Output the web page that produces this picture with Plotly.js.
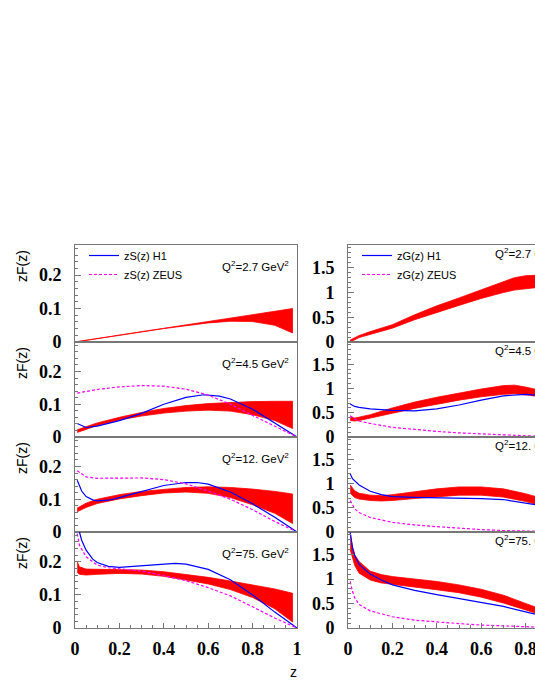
<!DOCTYPE html>
<html>
<head>
<meta charset="utf-8">
<script src="https://cdn.plot.ly/plotly-3.0.1.min.js"></script>
<style>
  html, body { margin: 0; padding: 0; overflow: hidden; background: #fff; }
  #chart { width: 600px; height: 692px; }
</style>
</head>
<body>
<div id="chart"></div>
<script>
// ---- data ----
// singlet zS(z), left column
var qLabels = ['2.7', '4.5', '12.', '75.'];

var zS1 = [0, 0.1, 0.2, 0.3, 0.4, 0.5, 0.6, 0.7, 0.8, 0.9, 0.98];
var S1_up = [0.0, 0.011, 0.021, 0.031, 0.041, 0.051, 0.061, 0.071, 0.081, 0.091, 0.1];
var S1_lo = [0.0, 0.010, 0.020, 0.030, 0.040, 0.049, 0.057, 0.062, 0.061, 0.05, 0.027];

var zS2 = [0.01, 0.1, 0.2, 0.3, 0.4, 0.5, 0.6, 0.7, 0.8, 0.9, 0.98];
var S2_up = [0.022, 0.043, 0.06, 0.075, 0.087, 0.096, 0.102, 0.106, 0.108, 0.109, 0.109];
var S2_lo = [0.014, 0.035, 0.052, 0.064, 0.073, 0.079, 0.082, 0.079, 0.068, 0.05, 0.026];
var zS2_h1 = [0.01, 0.05, 0.1, 0.15, 0.2, 0.3, 0.4, 0.5, 0.58, 0.65, 0.7, 0.8, 0.9, 1.0];
var S2_h1 = [0.041, 0.029, 0.033, 0.041, 0.05, 0.072, 0.1, 0.121, 0.129, 0.125, 0.116, 0.085, 0.043, 0.0];
var zS2_zeus = [0.01, 0.1, 0.2, 0.3, 0.4, 0.5, 0.6, 0.7, 0.8, 0.9, 1.0];
var S2_zeus = [0.134, 0.145, 0.153, 0.157, 0.155, 0.146, 0.128, 0.1, 0.066, 0.032, 0.0];

var zS3 = [0.01, 0.05, 0.1, 0.2, 0.3, 0.4, 0.5, 0.6, 0.7, 0.8, 0.9, 0.98];
var S3_up = [0.073, 0.088, 0.1, 0.114, 0.124, 0.131, 0.136, 0.138, 0.136, 0.131, 0.124, 0.116];
var S3_lo = [0.062, 0.075, 0.087, 0.101, 0.111, 0.119, 0.122, 0.118, 0.105, 0.083, 0.057, 0.026];
var zS3_h1 = [0.01, 0.03, 0.05, 0.08, 0.1, 0.15, 0.2, 0.3, 0.4, 0.5, 0.55, 0.6, 0.7, 0.8, 0.9, 1.0];
var S3_h1 = [0.158, 0.125, 0.108, 0.098, 0.095, 0.097, 0.105, 0.124, 0.142, 0.151, 0.151, 0.146, 0.122, 0.086, 0.045, 0.0];
var zS3_zeus = [0.01, 0.05, 0.1, 0.2, 0.3, 0.4, 0.5, 0.6, 0.7, 0.8, 0.9, 1.0];
var S3_zeus = [0.187, 0.168, 0.164, 0.165, 0.165, 0.16, 0.147, 0.125, 0.1, 0.068, 0.032, 0.0];

var zS4 = [0.01, 0.02, 0.05, 0.1, 0.2, 0.3, 0.4, 0.5, 0.6, 0.7, 0.8, 0.9, 0.98];
var S4_up = [0.2, 0.185, 0.178, 0.177, 0.177, 0.175, 0.17, 0.162, 0.153, 0.142, 0.131, 0.118, 0.105];
var S4_lo = [0.168, 0.162, 0.16, 0.162, 0.165, 0.163, 0.156, 0.145, 0.133, 0.116, 0.092, 0.058, 0.018];
var zS4_h1 = [0.02, 0.03, 0.05, 0.08, 0.1, 0.15, 0.2, 0.3, 0.4, 0.45, 0.5, 0.6, 0.7, 0.8, 0.9, 1.0];
var S4_h1 = [0.29, 0.265, 0.235, 0.208, 0.198, 0.186, 0.183, 0.187, 0.193, 0.195, 0.193, 0.177, 0.146, 0.1, 0.048, 0.0];
var zS4_zeus = [0.01, 0.02, 0.05, 0.1, 0.15, 0.2, 0.3, 0.4, 0.5, 0.6, 0.7, 0.8, 0.9, 1.0];
var S4_zeus = [0.285, 0.25, 0.215, 0.19, 0.182, 0.179, 0.172, 0.158, 0.143, 0.122, 0.097, 0.064, 0.03, 0.0];

// gluon zG(z), right column
var zG1 = [0.01, 0.05, 0.1, 0.2, 0.3, 0.4, 0.5, 0.6, 0.7, 0.75, 0.8, 0.85, 0.9, 0.98];
var G1_up = [0.04, 0.13, 0.21, 0.35, 0.55, 0.73, 0.89, 1.05, 1.22, 1.3, 1.34, 1.35, 1.32, 1.22];
var G1_lo = [0.0, 0.09, 0.16, 0.28, 0.45, 0.6, 0.74, 0.88, 1.0, 1.05, 1.08, 1.1, 1.08, 1.0];

var zG2 = [0.01, 0.03, 0.05, 0.1, 0.2, 0.3, 0.4, 0.5, 0.6, 0.7, 0.75, 0.8, 0.85, 0.9, 0.98];
var G2_up = [0.42, 0.39, 0.41, 0.46, 0.6, 0.72, 0.82, 0.91, 0.99, 1.06, 1.07, 1.03, 0.98, 0.9, 0.8];
var G2_lo = [0.34, 0.33, 0.34, 0.38, 0.49, 0.59, 0.68, 0.76, 0.83, 0.88, 0.89, 0.87, 0.84, 0.78, 0.7];
var zG2_h1 = [0.01, 0.03, 0.05, 0.1, 0.2, 0.3, 0.4, 0.5, 0.6, 0.7, 0.8, 0.9, 1.0];
var G2_h1 = [0.68, 0.63, 0.61, 0.58, 0.55, 0.54, 0.58, 0.66, 0.76, 0.85, 0.88, 0.84, 0.75];
var zG2_zeus = [0.01, 0.03, 0.05, 0.1, 0.2, 0.3, 0.4, 0.5, 0.6, 0.7, 0.8, 0.9, 1.0];
var G2_zeus = [0.44, 0.37, 0.33, 0.28, 0.2, 0.15, 0.115, 0.085, 0.06, 0.04, 0.025, 0.01, 0.0];

var zG3 = [0.01, 0.03, 0.05, 0.1, 0.15, 0.2, 0.3, 0.4, 0.5, 0.6, 0.7, 0.8, 0.9, 0.98];
var G3_up = [0.97, 0.85, 0.8, 0.76, 0.75, 0.77, 0.83, 0.89, 0.93, 0.93, 0.89, 0.79, 0.66, 0.55];
var G3_lo = [0.8, 0.71, 0.68, 0.65, 0.64, 0.65, 0.69, 0.73, 0.76, 0.76, 0.72, 0.63, 0.5, 0.4];
var zG3_h1 = [0.01, 0.02, 0.05, 0.1, 0.15, 0.2, 0.3, 0.4, 0.5, 0.6, 0.7, 0.8, 0.9, 1.0];
var G3_h1 = [1.2, 1.1, 0.97, 0.84, 0.77, 0.73, 0.715, 0.71, 0.7, 0.69, 0.67, 0.6, 0.52, 0.4];
var zG3_zeus = [0.01, 0.03, 0.05, 0.1, 0.2, 0.3, 0.4, 0.5, 0.6, 0.7, 0.8, 0.9, 1.0];
var G3_zeus = [0.65, 0.48, 0.4, 0.3, 0.2, 0.145, 0.11, 0.075, 0.05, 0.03, 0.015, 0.005, 0.0];

var zG4 = [0.01, 0.02, 0.03, 0.05, 0.1, 0.15, 0.2, 0.3, 0.4, 0.5, 0.6, 0.7, 0.8, 0.9, 0.98];
var G4_up = [1.93, 1.65, 1.5, 1.36, 1.16, 1.09, 1.05, 1.0, 0.95, 0.88, 0.79, 0.67, 0.5, 0.33, 0.2];
var G4_lo = [1.6, 1.42, 1.28, 1.12, 0.98, 0.92, 0.88, 0.83, 0.78, 0.72, 0.63, 0.51, 0.37, 0.22, 0.12];
var zG4_h1 = [0.01, 0.02, 0.03, 0.05, 0.1, 0.15, 0.2, 0.3, 0.4, 0.5, 0.6, 0.7, 0.8, 0.9, 1.0];
var G4_h1 = [1.95, 1.65, 1.48, 1.3, 1.1, 0.98, 0.88, 0.77, 0.68, 0.6, 0.53, 0.44, 0.33, 0.22, 0.1];
var zG4_zeus = [0.01, 0.02, 0.03, 0.05, 0.1, 0.15, 0.2, 0.3, 0.4, 0.5, 0.6, 0.7, 0.8, 0.9, 1.0];
var G4_zeus = [0.95, 0.75, 0.62, 0.48, 0.35, 0.29, 0.23, 0.16, 0.12, 0.09, 0.06, 0.04, 0.02, 0.01, 0.0];

// ---- page geometry (pixels) ----
var W = 600, H = 692;
var panelTop = [245, 342, 437, 532];
var panelBot = [342, 437, 532, 628];
var leftX = [75, 297], rightX = [348, 570];

var RED = '#ff0000', BLUE = '#0000ff', MAGENTA = '#ff00ff', FRAME = '#777777';

function band(z, up, lo, ax) {
  return {
    type: 'scatter', mode: 'lines', hoverinfo: 'skip', showlegend: false,
    x: z.concat(z.slice().reverse()),
    y: up.concat(lo.slice().reverse()),
    fill: 'toself', fillcolor: RED,
    line: {color: RED, width: 0.8},
    xaxis: 'x' + ax, yaxis: 'y' + ax
  };
}
function curve(z, y, ax, color, dash, name, legend) {
  return {
    type: 'scatter', mode: 'lines', x: z, y: y,
    name: name || '', showlegend: !!name, legend: legend || 'legend',
    line: {color: color, width: 1.2, dash: dash},
    xaxis: 'x' + ax, yaxis: 'y' + ax
  };
}

var data = [
  band(zS1, S1_up, S1_lo, 1),
  band(zS2, S2_up, S2_lo, 2),
  curve(zS2_h1, S2_h1, 2, BLUE, 'solid', 'zS(z) H1', 'legend'),
  curve(zS2_zeus, S2_zeus, 2, MAGENTA, '3px,2px', 'zS(z) ZEUS', 'legend'),
  band(zS3, S3_up, S3_lo, 3),
  curve(zS3_h1, S3_h1, 3, BLUE, 'solid'),
  curve(zS3_zeus, S3_zeus, 3, MAGENTA, '3px,2px'),
  band(zS4, S4_up, S4_lo, 4),
  curve(zS4_h1, S4_h1, 4, BLUE, 'solid'),
  curve(zS4_zeus, S4_zeus, 4, MAGENTA, '3px,2px'),

  band(zG1, G1_up, G1_lo, 5),
  band(zG2, G2_up, G2_lo, 6),
  curve(zG2_h1, G2_h1, 6, BLUE, 'solid', 'zG(z) H1', 'legend2'),
  curve(zG2_zeus, G2_zeus, 6, MAGENTA, '3px,2px', 'zG(z) ZEUS', 'legend2'),
  band(zG3, G3_up, G3_lo, 7),
  curve(zG3_h1, G3_h1, 7, BLUE, 'solid'),
  curve(zG3_zeus, G3_zeus, 7, MAGENTA, '3px,2px'),
  band(zG4, G4_up, G4_lo, 8),
  curve(zG4_h1, G4_h1, 8, BLUE, 'solid'),
  curve(zG4_zeus, G4_zeus, 8, MAGENTA, '3px,2px')
];

var serif = '"Times New Roman", Times, "Liberation Serif", "DejaVu Serif", serif';
var tickFont = {family: serif, size: 18, weight: 700, color: '#000'};
var sans = 'Liberation Sans, Arial, sans-serif';

var layout = {
  width: W, height: H,
  margin: {l: 0, r: 0, t: 0, b: 0},
  font: {family: serif},
  paper_bgcolor: '#fff', plot_bgcolor: 'rgba(0,0,0,0)',
  showlegend: true,
  legend: {x: 84 / W, y: 1 - 241 / H, xanchor: 'left', yanchor: 'top',
           bgcolor: 'rgba(0,0,0,0)', font: {family: sans, size: 11, color: '#000'},
           tracegroupgap: 0, itemwidth: 30},
  legend2: {x: 357 / W, y: 1 - 241 / H, xanchor: 'left', yanchor: 'top',
            bgcolor: 'rgba(0,0,0,0)', font: {family: sans, size: 11, color: '#000'},
            tracegroupgap: 0, itemwidth: 30},
  annotations: [],
  shapes: []
};

for (var i = 0; i < 8; i++) {
  var row = i % 4, right = i >= 4, n = i + 1;
  var xd = right ? rightX : leftX;
  var bottom = row === 3;
  layout['xaxis' + n] = {
    domain: [xd[0] / W, xd[1] / W], range: [0, 1], anchor: 'y' + n,
    showline: true, linecolor: FRAME, linewidth: 1, mirror: true,
    showgrid: false, zeroline: false, fixedrange: true,
    showticklabels: bottom, tickvals: [0, 0.2, 0.4, 0.6, 0.8, 1],
    ticktext: ['0', '0.2', '0.4', '0.6', '0.8', '1'],
    ticks: bottom ? 'inside' : '', ticklen: 5, tickcolor: FRAME,
    minor: bottom ? {dtick: 0.05, ticks: 'inside', ticklen: 3, tickcolor: FRAME} : {},
    tickfont: tickFont, ticklabelstandoff: 4
  };
  layout['yaxis' + n] = {
    domain: [1 - panelBot[row] / H, 1 - panelTop[row] / H],
    range: right ? [0, 1.96] : [0, 0.29], anchor: 'x' + n,
    showline: true, linecolor: FRAME, linewidth: 1, mirror: true,
    showgrid: false, zeroline: false, fixedrange: true,
    tickvals: right ? [0, 0.5, 1, 1.5] : [0, 0.1, 0.2],
    ticktext: right ? ['0', '0.5', '1', '1.5'] : ['0', '0.1', '0.2'],
    ticks: 'inside', ticklen: 6, tickcolor: FRAME,
    minor: {dtick: right ? 0.1 : 0.02, ticks: 'inside', ticklen: 3, tickcolor: FRAME},
    tickfont: tickFont, ticklabelstandoff: 9
  };
  layout.annotations.push({
    xref: 'x' + n + ' domain', yref: 'y' + n + ' domain',
    x: 145 / 222, y: right ? 1 - 8 / 96 : 1 - 21 / 96,
    xanchor: 'left', yanchor: 'middle', showarrow: false,
    text: 'Q<sup>2</sup>=' + qLabels[row] + ' GeV<sup>2</sup>',
    font: {family: sans, size: 11.5, color: '#000'}
  });
  if (!right) {
    layout.annotations.push({
      xref: 'paper', yref: 'paper', x: 22 / W, y: 1 - (panelTop[row] + 21) / H,
      xanchor: 'center', yanchor: 'middle', showarrow: false, textangle: -90,
      text: 'zF(z)', font: {family: sans, size: 14, color: '#000'}
    });
  }
}
layout.annotations.push({
  xref: 'paper', yref: 'paper', x: 293 / W, y: 1 - 672 / H,
  xanchor: 'center', yanchor: 'middle', showarrow: false,
  text: 'z', font: {family: sans, size: 14, color: '#000'}
});

Plotly.newPlot('chart', data, layout, {displayModeBar: false, staticPlot: true, responsive: false});
</script>
</body>
</html>
